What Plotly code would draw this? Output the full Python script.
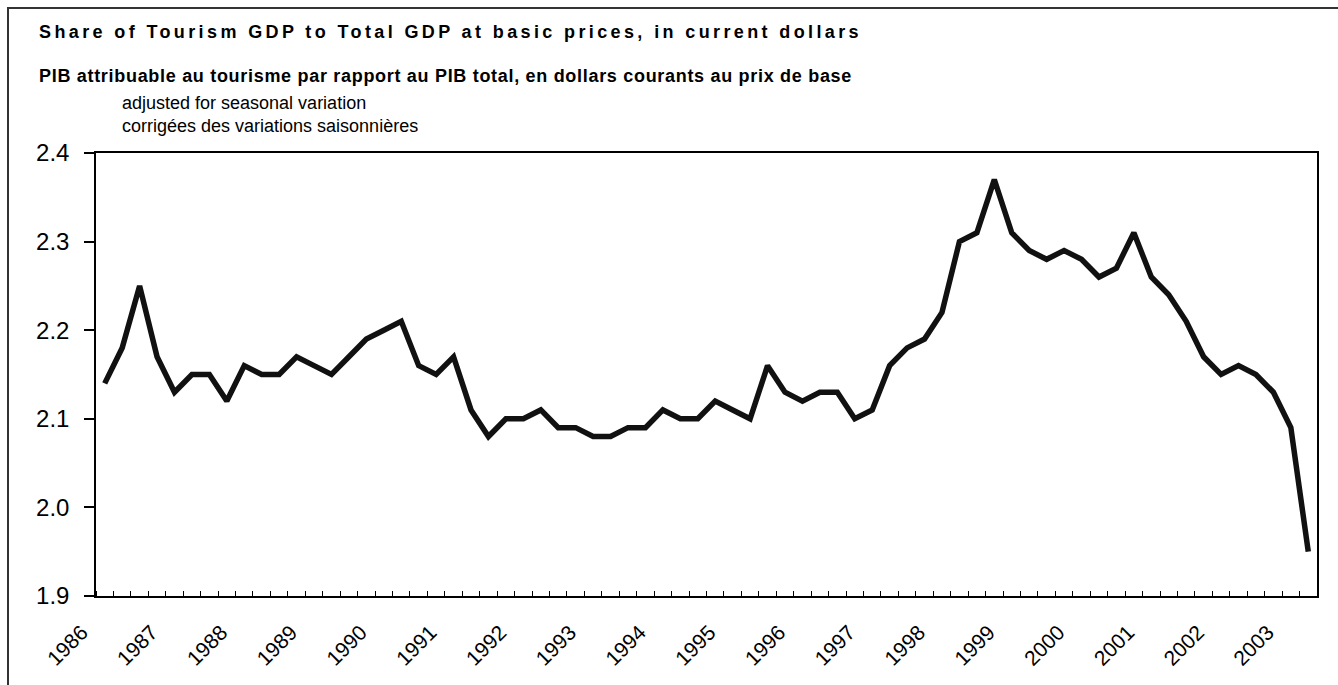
import plotly.graph_objects as go

# ---- data ----
quarters = [f"{y} Q{q}" for y in range(1986, 2004) for q in range(1, 5)][:70]
share = [
    2.14, 2.18, 2.25, 2.17, 2.13, 2.15, 2.15, 2.12, 2.16, 2.15, 2.15, 2.17,
    2.16, 2.15, 2.17, 2.19, 2.20, 2.21, 2.16, 2.15, 2.17, 2.11, 2.08, 2.10,
    2.10, 2.11, 2.09, 2.09, 2.08, 2.08, 2.09, 2.09, 2.11, 2.10, 2.10, 2.12,
    2.11, 2.10, 2.16, 2.13, 2.12, 2.13, 2.13, 2.10, 2.11, 2.16,
    2.18, 2.19, 2.22, 2.30, 2.31, 2.37, 2.31, 2.29, 2.28, 2.29, 2.28, 2.26,
    2.27, 2.31, 2.26, 2.24, 2.21, 2.17, 2.15, 2.16, 2.15, 2.13, 2.09, 1.95,
]
year_labels = ["1986", "1987", "1988", "1989", "1990", "1991", "1992", "1993", "1994",
               "1995", "1996", "1997", "1998", "1999", "2000", "2001", "2002", "2003"]
y_ticks = [1.9, 2.0, 2.1, 2.2, 2.3, 2.4]

title_en = "Share of Tourism GDP to Total GDP at basic prices, in current dollars"
title_fr = "PIB attribuable au tourisme par rapport au PIB total, en dollars courants au prix de base"
sub_en = "adjusted for seasonal variation"
sub_fr = "corrigées des variations saisonnières"

# ---- layout geometry ----
W, H = 1338, 685
L, R, T, B = 96, 21, 153, 89
PW, PH = W - L - R, H - T - B

def px(x):
    return (x - L) / PW

def py(y):
    return (H - B - y) / PH

FONT = "Arial, Liberation Sans, sans-serif"
xpos = list(range(len(share)))

fig = go.Figure()
fig.add_trace(go.Scatter(
    x=xpos, y=share, mode="lines",
    line=dict(color="#111111", width=5.5),
    customdata=quarters, hovertemplate="%{customdata}: %{y}<extra></extra>",
    showlegend=False,
))

fig.update_layout(
    width=W, height=H, autosize=False,
    margin=dict(l=L, r=R, t=T, b=B),
    paper_bgcolor="white", plot_bgcolor="white",
    font=dict(family=FONT, color="black"),
    xaxis=dict(
        range=[-0.5, len(share) - 0.5],
        tickmode="array",
        tickvals=[4 * k for k in range(len(year_labels))],
        ticktext=year_labels,
        tickangle=-45,
        ticks="",
        tickfont=dict(size=21, family=FONT),
        showgrid=False, zeroline=False,
        showline=True, linecolor="black", linewidth=1.5, mirror=True,
        minor=dict(tick0=-0.5, dtick=1, ticks="inside", ticklen=5,
                   tickwidth=1, tickcolor="black", showgrid=False),
        ticklabelstandoff=14,
        ticklabelshift=-23,
    ),
    yaxis=dict(
        range=[1.9, 2.4],
        tickmode="array", tickvals=y_ticks,
        ticktext=[f"{v:.1f}" for v in y_ticks],
        ticks="outside", ticklen=10, tickwidth=1.5, tickcolor="black",
        tickfont=dict(size=24, family=FONT),
        showgrid=False, zeroline=False,
        showline=True, linecolor="black", linewidth=1.5, mirror=True,
        ticklabelstandoff=10,
    ),
    shapes=[dict(type="rect", xref="paper", yref="paper",
                 x0=px(8), x1=px(1360), y0=py(700), y1=py(8),
                 line=dict(color="#333333", width=2), layer="below")],
    annotations=[
        dict(text=title_en, x=px(37), y=py(32), xref="paper", yref="paper",
             xanchor="left", yanchor="middle", align="left", showarrow=False,
             font=dict(size=18, family=FONT, weight="bold")),
        dict(text=title_fr, x=px(37), y=py(76), xref="paper", yref="paper",
             xanchor="left", yanchor="middle", align="left", showarrow=False,
             font=dict(size=18, family=FONT, weight="bold")),
        dict(text=sub_en, x=px(120), y=py(103), xref="paper", yref="paper",
             xanchor="left", yanchor="middle", align="left", showarrow=False,
             font=dict(size=18, family=FONT)),
        dict(text=sub_fr, x=px(120), y=py(126), xref="paper", yref="paper",
             xanchor="left", yanchor="middle", align="left", showarrow=False,
             font=dict(size=18, family=FONT)),
    ],
)

post = """
document.body.style.margin = '0';
document.body.style.overflow = 'hidden';
var gd = document.getElementById('{plot_id}');
var targets = {};
targets[%s] = 823;
targets[%s] = 813;
gd.querySelectorAll('.annotation-text').forEach(function(t){
  var tw = targets[t.textContent];
  if (tw) {
    var n = t.textContent.length;
    var w = t.getComputedTextLength();
    if (tw > w) { t.style.letterSpacing = ((tw - w) / n) + 'px'; }
  }
});
""" % (repr(title_en), repr(title_fr))

fig.write_html("out.html", post_script=post, config={"displayModeBar": False})
